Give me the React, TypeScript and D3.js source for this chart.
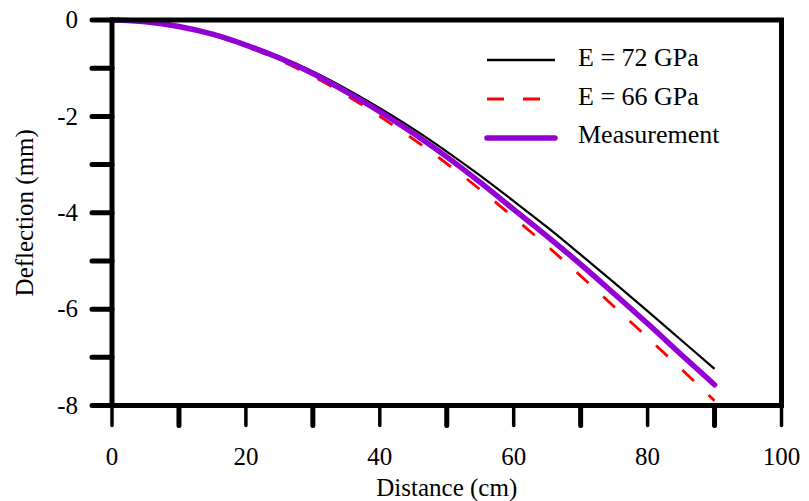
import React from "react";
import * as d3 from "d3";

// Distance along the beam (cm)
const distance = [0, 5, 10, 15, 20, 25, 30, 35, 40, 45, 50, 55, 60, 65, 70, 75, 80, 85, 90];

// Deflection (mm) for each series
const e72 = [0, -0.033, -0.13, -0.285, -0.5, -0.76, -1.07, -1.43, -1.83, -2.26, -2.73, -3.23, -3.76, -4.3, -4.87, -5.45, -6.04, -6.64, -7.24];
const e66 = [0, -0.036, -0.14, -0.31, -0.55, -0.83, -1.17, -1.56, -2.0, -2.47, -2.98, -3.52, -4.1, -4.69, -5.31, -5.95, -6.59, -7.24, -7.9];
const measured = [0, -0.035, -0.135, -0.295, -0.52, -0.79, -1.11, -1.49, -1.9, -2.35, -2.84, -3.37, -3.93, -4.49, -5.07, -5.68, -6.3, -6.94, -7.57];

const xTicks = [0, 10, 20, 30, 40, 50, 60, 70, 80, 90, 100];
const xLabels = [0, 20, 40, 60, 80, 100];
const yTicks = [0, -1, -2, -3, -4, -5, -6, -7, -8];
const yLabels = [0, -2, -4, -6, -8];

const legendItems = [
  { label: "E = 72 GPa", color: "#000000", width: 2.5, dash: "none", cap: "butt" },
  { label: "E = 66 GPa", color: "#ff0000", width: 3, dash: "17,19", cap: "butt" },
  { label: "Measurement", color: "#9400d3", width: 5.5, dash: "none", cap: "round" },
];

const W = 809;
const H = 501;
const FONT = "'Liberation Serif', 'Times New Roman', serif";

export default function App() {
  const x = d3.scaleLinear().domain([0, 100]).range([112, 781.5]);
  const y = d3.scaleLinear().domain([0, -8]).range([20, 405.5]);

  const line = (vals: number[]) =>
    d3
      .line<number>()
      .x((_, i) => x(distance[i]))
      .y((v) => y(v))
      .curve(d3.curveCatmullRom.alpha(0.5))(vals) as string;

  const x0 = x(0);
  const x1 = x(100);
  const y0 = y(0);
  const y1 = y(-8);

  return (
    <svg
      width={W}
      height={H}
      viewBox={`0 0 ${W} ${H}`}
      style={{ position: "absolute", left: 0, top: 0, background: "#fff" }}
      fontFamily={FONT}
    >
      <rect x={0} y={0} width={W} height={H} fill="#fff" />

      {/* series */}
      <path d={line(e72)} fill="none" stroke="#000" strokeWidth={2.2} />
      <path d={line(e66)} fill="none" stroke="#ff0000" strokeWidth={2.8} strokeDasharray="16,20" />
      <path d={line(measured)} fill="none" stroke="#9400d3" strokeWidth={5.5} strokeLinecap="round" strokeLinejoin="round" />

      {/* frame */}
      <path
        d={`M${x0},${y0} L${x1},${y0} L${x1},${y1} L${x0},${y1} Z`}
        fill="none"
        stroke="#000"
        strokeWidth={5}
        strokeLinejoin="miter"
      />

      {/* x ticks */}
      {xTicks.map((t) => (
        <line
          key={`xt${t}`}
          x1={x(t)}
          x2={x(t)}
          y1={y1}
          y2={y1 + 20}
          stroke="#000"
          strokeWidth={t % 20 === 0 ? 3.5 : 5}
          strokeLinecap="round"
        />
      ))}
      {xLabels.map((t) => (
        <text key={`xl${t}`} x={x(t)} y={465} fontSize={25} textAnchor="middle" fill="#000">
          {t}
        </text>
      ))}

      {/* y ticks */}
      {yTicks.map((t) => (
        <line
          key={`yt${t}`}
          x1={x0 - 20}
          x2={x0}
          y1={y(t)}
          y2={y(t)}
          stroke="#000"
          strokeWidth={5}
          strokeLinecap="round"
        />
      ))}
      {yLabels.map((t) => (
        <text
          key={`yl${t}`}
          x={78}
          y={y(t)}
          dy="0.33em"
          fontSize={25}
          textAnchor="end"
          fill="#000"
        >
          {t === 0 ? "0" : `-${Math.abs(t)}`}
        </text>
      ))}

      {/* axis titles */}
      <text x={(x0 + x1) / 2 - 0} y={496} fontSize={25} textAnchor="middle" fill="#000">
        Distance (cm)
      </text>
      <text
        transform={`translate(33,${(y0 + y1) / 2}) rotate(-90)`}
        fontSize={25}
        textAnchor="middle"
        fill="#000"
      >
        Deflection (mm)
      </text>

      {/* legend */}
      {legendItems.map((it, i) => {
        const ly = [60, 99, 138][i];
        const by = [66, 105, 143][i];
        return (
          <g key={it.label}>
            <line
              x1={487}
              x2={555}
              y1={ly}
              y2={ly}
              stroke={it.color}
              strokeWidth={it.width}
              strokeDasharray={it.dash}
              strokeLinecap={it.cap as any}
            />
            <text x={578} y={by} fontSize={26} fill="#000">
              {it.label}
            </text>
          </g>
        );
      })}
    </svg>
  );
}
